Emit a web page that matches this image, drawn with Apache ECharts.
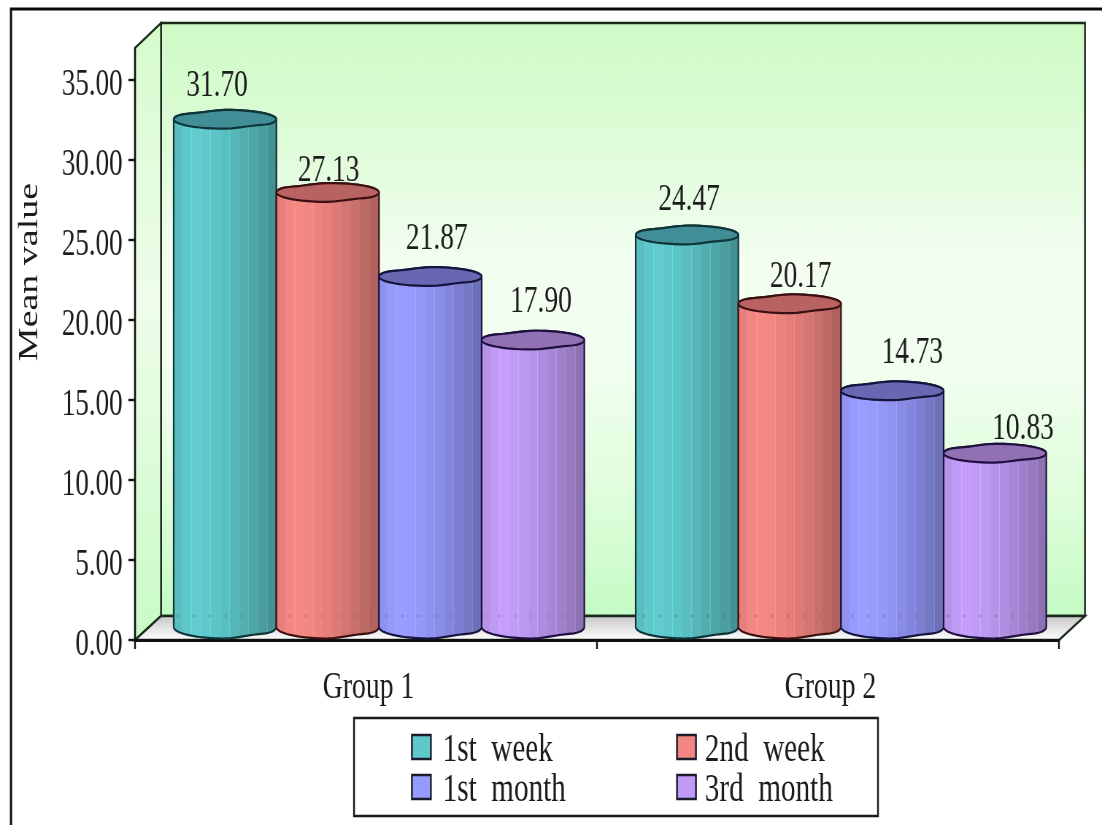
<!DOCTYPE html>
<html>
<head>
<meta charset="utf-8">
<style>
  html, body { margin: 0; padding: 0; width: 1102px; height: 825px; overflow: hidden; background: #fff; }
  /* The chart is laid out wide and condensed horizontally as a whole, glyphs included. */
  #main { width: 1510px; height: 825px; transform-origin: 0 0; transform: scaleX(0.72980); }
</style>
<script src="https://cdn.jsdelivr.net/npm/echarts@6/dist/echarts.min.js"></script>
</head>
<body>
<div id="main"></div>
<script>
const groups = ['Group 1', 'Group 2'];
const firstWeek = [31.70, 24.47];
const secondWeek = [27.13, 20.17];
const firstMonth = [21.87, 14.73];
const thirdMonth = [17.90, 10.83];
const yTicks = [0, 5, 10, 15, 20, 25, 30, 35];
const seriesNames = ['1st  week', '2nd  week', '1st  month', '3rd  month'];
const seriesValues = [firstWeek, secondWeek, firstMonth, thirdMonth];

const palette = [[95, 200, 202], [242, 134, 130], [150, 154, 250], [192, 155, 245]];
const capShade = [[66, 142, 150], [184, 98, 98], [104, 104, 178], [146, 112, 180]];
const outline = ['#0e3338', '#3a1012', '#14143e', '#1f1040'];

// Value-label nudges from the default spot above each cylinder: [dx, dy] in screen pixels.
const labelNudge = [
  [[-8, -33], [2, -35]],
  [[1, -21], [11, -27]],
  [[6.5, -37], [20, -38]],
  [[8, -38], [28, -24]]
];

const SCALE = 1102 / 1510;
const px = v => v / SCALE;          // screen pixels to layout pixels, horizontally
const DEPTH_X = px(26), DEPTH_Y = 24;
const SERIF = '"Liberation Serif", "Times New Roman", serif';
const INK = '#1c1c1c';

// Shading of the faceted cylinder wall, left to right.
const facets = [0.95, 1.0, 1.02, 1.0, 0.98, 0.95, 0.91, 0.87, 0.83, 0.78, 0.73];
const rgb = (c, f) => `rgb(${c.map(v => Math.min(255, Math.round(v * f))).join(',')})`;

function facetGradient(base) {
  const stops = [];
  facets.forEach((f, i) => {
    const a = i / facets.length, b = (i + 1) / facets.length;
    stops.push({ offset: a, color: rgb(base, f) });
    stops.push({ offset: b - 0.006, color: rgb(base, f) });
    stops.push({ offset: b - 0.006, color: rgb(base, f * (i % 2 ? 1.1 : 1.04)) });
    stops.push({ offset: b, color: rgb(base, f * (i % 2 ? 1.1 : 1.04)) });
  });
  return { type: 'linear', x: 0, y: 0, x2: 1, y2: 0, colorStops: stops };
}

// Rim of a cylinder: an ellipse with the shallow dents of a coarse facet mesh.
function rim(cx, cy, rx, ry, from, to) {
  const pts = [];
  const n = 48;
  for (let i = 0; i <= n; i++) {
    const t = from + (to - from) * i / n;
    const dent = Math.pow(Math.max(0, Math.cos(2 * (t - 0.97))), 3);
    const r = 1.05 - 0.2 * dent;
    pts.push([cx + rx * Math.cos(t), cy + ry * r * Math.sin(t)]);
  }
  return pts;
}

function renderCylinder(seriesIndex) {
  return function (params, api) {
    const groupIdx = api.value(0);
    const value = api.value(1);
    const band = api.size([1, 0])[0];
    const width = band * 0.2222;
    const top = api.coord([groupIdx, value]);
    const base = api.coord([groupIdx, 0]);
    const cx = top[0] + DEPTH_X / 2 + (seriesIndex - 1.5) * width;
    const topY = top[1] - 13.5;
    const baseY = base[1] - 13;
    const rx = width / 2;
    const edge = outline[seriesIndex];

    const lowerTop = rim(cx, topY, rx, 9, Math.PI, 2 * Math.PI);
    const lowerBase = rim(cx, baseY, rx, 11, 0, Math.PI);
    const nudge = labelNudge[seriesIndex][groupIdx];

    return {
      type: 'group',
      children: [
        {
          type: 'polygon',
          shape: { points: lowerTop.concat(lowerBase) },
          style: { fill: facetGradient(palette[seriesIndex]), stroke: edge, lineWidth: 2.2 }
        },
        {
          type: 'polygon',
          shape: { points: rim(cx, topY, rx, 9, 0, 2 * Math.PI) },
          style: { fill: rgb(capShade[seriesIndex], 1), stroke: edge, lineWidth: 2.2 }
        },
        {
          type: 'text',
          style: {
            text: value.toFixed(2),
            x: cx + px(nudge[0]),
            y: topY + nudge[1],
            align: 'center',
            verticalAlign: 'middle',
            font: `37.5px ${SERIF}`,
            fill: INK
          }
        }
      ]
    };
  };
}

// Back wall, side wall and floor, set back from the plot area by the chart's depth.
function renderRoom(params, api) {
  const g = params.coordSys;
  const l = g.x, r = g.x + g.width, t = g.y, b = g.y + g.height;
  const line = { stroke: '#1a2a1a', lineWidth: 2.4 };
  return {
    type: 'group',
    children: [
      {
        type: 'polygon',
        shape: { points: [[l + DEPTH_X, t - DEPTH_Y - 1], [r + DEPTH_X, t - DEPTH_Y - 1], [r + DEPTH_X, b - DEPTH_Y], [l + DEPTH_X, b - DEPTH_Y]] },
        style: {
          fill: {
            type: 'linear', x: 0, y: 0, x2: 0, y2: 1,
            colorStops: [
              { offset: 0, color: '#cffac6' },
              { offset: 0.18, color: '#dcfcd6' },
              { offset: 0.4, color: '#f3fef1' },
              { offset: 0.58, color: '#f2fff0' },
              { offset: 0.8, color: '#dffddb' },
              { offset: 1, color: '#c4fbc4' }
            ]
          },
          ...line
        }
      },
      {
        type: 'polygon',
        shape: { points: [[l, t], [l + DEPTH_X, t - DEPTH_Y - 1], [l + DEPTH_X, b - DEPTH_Y], [l, b]] },
        style: {
          fill: {
            type: 'linear', x: 0, y: 0, x2: 0, y2: 1,
            colorStops: [
              { offset: 0, color: '#d6fbce' },
              { offset: 0.45, color: '#eefdea' },
              { offset: 1, color: '#c9fbc6' }
            ]
          },
          ...line
        }
      },
      {
        type: 'polygon',
        shape: { points: [[l, b], [l + DEPTH_X, b - DEPTH_Y], [r + DEPTH_X, b - DEPTH_Y], [r, b]] },
        style: {
          fill: {
            type: 'linear', x: 0, y: 0, x2: 0, y2: 1,
            colorStops: [
              { offset: 0, color: '#c6c6c6' },
              { offset: 0.55, color: '#e6e6e6' },
              { offset: 1, color: '#ffffff' }
            ]
          },
          ...line
        }
      }
    ]
  };
}

// The wall's base line shows through the cylinders as a faint row of dots.
function renderBaseDots(params, api) {
  const g = params.coordSys;
  const y = g.y + g.height - DEPTH_Y;
  return {
    type: 'line',
    shape: { x1: g.x + DEPTH_X, y1: y, x2: g.x + g.width, y2: y },
    style: { stroke: '#3a3a4a', lineWidth: 1.4, lineDash: [2, 20], opacity: 0.45 }
  };
}

const cylinderSeries = seriesValues.map((values, i) => ({
  name: seriesNames[i],
  type: 'custom',
  z: 2 + i,
  silent: true,
  renderItem: renderCylinder(i),
  encode: { x: 0, y: 1 },
  itemStyle: { color: rgb(palette[i], 1) },
  data: values.map((v, g) => [g, v])
}));

const chart = echarts.init(document.getElementById('main'), null, { renderer: 'canvas' });
chart.setOption({
  animation: false,
  backgroundColor: '#ffffff',
  grid: { left: px(135), right: 1510 - px(1059), top: 48, bottom: 825 - 640, outerBoundsMode: 'none' },
  xAxis: {
    type: 'category',
    data: groups,
    z: 1,
    axisLine: { lineStyle: { color: '#111', width: 3 } },
    axisTick: { show: true, alignWithLabel: false, length: 9, lineStyle: { color: '#111', width: 2.4 } },
    axisLabel: { color: INK, fontFamily: SERIF, fontSize: 38, margin: 29, padding: [0, 0, 0, 7] },
    splitLine: { show: false }
  },
  yAxis: {
    type: 'value',
    min: 0,
    max: 37,
    interval: 5,
    z: 1,
    name: 'Mean value',
    nameLocation: 'middle',
    nameGap: px(91),
    nameRotate: 90,
    nameTextStyle: { color: INK, fontFamily: SERIF, fontSize: 38, padding: [0, 0, 0, 144] },
    axisLine: { show: true, lineStyle: { color: '#111', width: 2.4 } },
    axisTick: { show: true, length: 9, customValues: yTicks, lineStyle: { color: '#111', width: 2.4 } },
    axisLabel: {
      color: INK, fontFamily: SERIF, fontSize: 37, margin: 17,
      verticalAlign: 'top', lineHeight: 10,
      customValues: yTicks,
      formatter: v => v.toFixed(2)
    },
    splitLine: { show: false }
  },
  legend: {
    left: px(411),
    top: 724,
    width: px(540),
    padding: 0,
    orient: 'horizontal',
    itemGap: -6,
    itemWidth: px(19),
    itemHeight: 24,
    icon: 'rect',
    selectedMode: false,
    itemStyle: { borderWidth: 2.4, borderColor: '#1a1a2a' },
    formatter: name => `{t|${name}}`,
    textStyle: {
      color: INK, fontFamily: SERIF, fontSize: 40,
      rich: { t: { color: INK, fontFamily: SERIF, fontSize: 40, lineHeight: 34, width: 326, padding: [6, 0, 0, 0] } }
    },
    data: seriesNames.map((name, i) => ({
      name,
      textStyle: { padding: [0, 0, 0, i % 2 ? 7 : 11] }
    }))
  },
  graphic: [
    // Page frame, open at the right and bottom.
    { type: 'polyline', z: 20, silent: true,
      shape: { points: [[px(11), 825], [px(11), 9], [1510, 9]] },
      style: { fill: null, stroke: '#0a0a0a', lineWidth: 3 } },
    // Box around the legend.
    { type: 'rect', z: -1, silent: true,
      shape: { x: px(354), y: 718, width: px(524), height: 98 },
      style: { fill: '#fff', stroke: '#1a1a1a', lineWidth: 2.4 } }
  ],
  series: [
    { type: 'custom', name: 'room', z: 0, silent: true, renderItem: renderRoom, encode: { x: 0, y: 1 }, data: [[0, 0]] },
    ...cylinderSeries,
    { type: 'custom', name: 'base dots', z: 8, silent: true, renderItem: renderBaseDots, encode: { x: 0, y: 1 }, data: [[0, 0]] }
  ]
});
</script>
</body>
</html>
